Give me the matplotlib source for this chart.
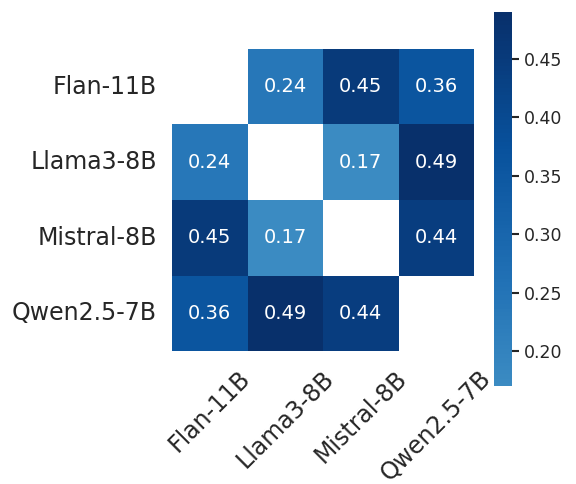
import numpy as np
import pandas as pd
import matplotlib
matplotlib.use("Agg")
import matplotlib.pyplot as plt
import seaborn as sns
from matplotlib.colors import LinearSegmentedColormap

models = ["Flan-11B", "Llama3-8B", "Mistral-8B", "Qwen2.5-7B"]
row_flan = [np.nan, 0.24, 0.45, 0.36]
row_llama = [0.24, np.nan, 0.17, 0.49]
row_mistral = [0.45, 0.17, np.nan, 0.44]
row_qwen = [0.36, 0.49, 0.44, np.nan]

sns.set_theme(style="white")

df = pd.DataFrame([row_flan, row_llama, row_mistral, row_qwen], index=models, columns=models)
mask = np.eye(len(models), dtype=bool)

# darker part of Blues only
blues = plt.get_cmap("Blues")
cmap = LinearSegmentedColormap.from_list("blues_dark", blues(np.linspace(0.65, 1.0, 256)))

fig = plt.figure(figsize=(5.76, 4.84), dpi=100)
ax = fig.add_axes([0.2986, 0.2727, 0.5244, 0.6281])
cax = fig.add_axes([0.8576, 0.2025, 0.0313, 0.7725])

sns.heatmap(df, mask=mask, annot=True, fmt=".2f", cmap=cmap, square=True,
            ax=ax, cbar_ax=cax, annot_kws={"size": 14})

ax.set_position([0.2986, 0.2727, 0.5244, 0.6281])
cax.set_position([0.8576, 0.2025, 0.0313, 0.7725])

ax.set_xticklabels(models, rotation=45, fontsize=17, ha="center")
ax.set_yticklabels(models, rotation=0, fontsize=17)
ax.tick_params(length=0, pad=11)

cax.tick_params(labelsize=12.5, length=5, width=1.5, color="#262626", right=True)
cax.yaxis.set_ticks([0.20, 0.25, 0.30, 0.35, 0.40, 0.45])

fig.savefig("out.png", dpi=100)
